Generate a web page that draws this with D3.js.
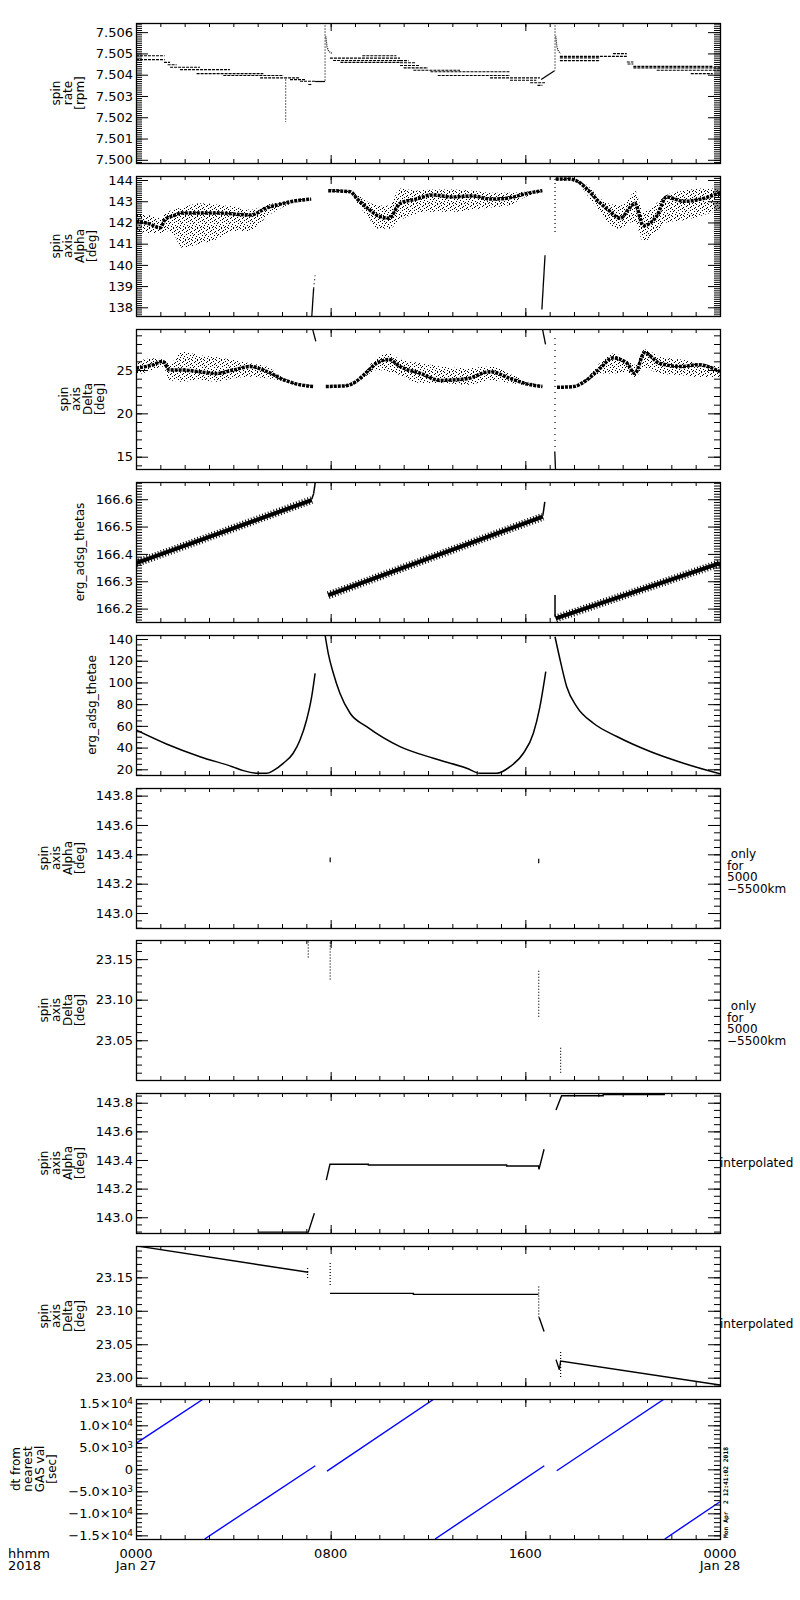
<!DOCTYPE html>
<html>
<head>
<meta charset="utf-8">
<script src="https://cdn.jsdelivr.net/npm/d3@7"></script>
<style>
  body { margin: 0; background: #fff; }
  svg text { font-family: "DejaVu Sans", sans-serif; fill: #000; }
</style>
</head>
<body>
<svg id="chart" width="800" height="1600"></svg>
<script>
// ---- time axis ----
var hourTicks = [0, 8, 16, 24];
var hourLabels = ["0000", "0800", "1600", "0000"];
var dayLabels = ["Jan 27", "", "", "Jan 28"];

// ---- spin rate [rpm]: rows of quantised values [start h, end h, value] ----
var spinRateRows = [
  [0.0, 1.18, 7.50489], [0.0, 1.18, 7.50471],
  [1.15, 1.40, 7.50458], [1.30, 1.67, 7.50447], [1.40, 2.63, 7.50435],
  [1.81, 3.86, 7.50424], [2.49, 5.23, 7.50405], [3.59, 6.06, 7.50396],
  [5.10, 6.74, 7.50385], [6.33, 6.95, 7.50377], [6.74, 7.36, 7.50369],
  [7.08, 7.22, 7.50354],
  [7.97, 10.85, 7.50478], [8.10, 10.85, 7.50467], [8.40, 10.85, 7.50458], [9.30, 10.70, 7.50489],
  [10.85, 11.20, 7.50466], [10.85, 11.50, 7.50456], [10.85, 11.67, 7.50443], [11.0, 12.0, 7.50432],
  [11.40, 13.32, 7.50421], [12.10, 15.37, 7.50414], [12.40, 15.37, 7.50396], [14.55, 16.60, 7.50385],
  [15.37, 16.45, 7.50374], [16.20, 16.81, 7.50362], [16.50, 16.70, 7.50350],
  [17.42, 20.17, 7.50486], [17.42, 19.07, 7.50479], [17.42, 19.07, 7.50466], [19.60, 20.17, 7.50499],
  [20.17, 20.44, 7.50460], [20.20, 20.44, 7.50450],
  [20.44, 23.73, 7.50439], [20.44, 24.0, 7.50432], [21.40, 24.0, 7.50421], [22.80, 23.70, 7.50405]
];
var spinRateSolid = [[7.36, 7.50368, 7.77, 7.50368], [16.65, 7.50377, 17.2, 7.50419]];
var spinRateSpikes = [[6.15, 7.50377, 7.50178], [7.77, 7.5066, 7.50368], [17.22, 7.5066, 7.50419]];
var spinDecayTime = [7.80, 7.85, 7.92, 8.05, null, 17.25, 17.30, 17.36, 17.45];
var spinDecayVal = [7.5058, 7.5053, 7.5051, 7.5050, null, 7.5058, 7.5053, 7.5051, 7.5050];

// ---- spin axis Alpha [deg] ----
var alphaTime = [0.0, 0.5, 1.0, 1.2, 1.5, 1.9, 2.6, 3.3, 4.0, 4.7, 5.4, 5.9, 6.45, 7.2, null,
  7.9, 8.8, 9.1, 9.56, 9.97, 10.4, 10.85, 11.5, 12.2, 13.0, 13.8, 14.6, 15.3, 16.0, 16.7, null,
  17.25, 17.8, 18.2, 18.6, 19.0, 19.4, 19.9, 20.3, 20.5, 20.85, 21.4, 21.8, 22.5, 23.2, 24.0];
var alphaCore = [142.05, 141.95, 141.75, 142.15, 142.3, 142.45, 142.45, 142.45, 142.4, 142.35, 142.7, 142.85, 143.0, 143.1, null,
  143.5, 143.45, 143.1, 142.63, 142.3, 142.2, 142.9, 143.1, 143.3, 143.2, 143.25, 143.1, 143.15, 143.35, 143.5, null,
  144.05, 144.05, 143.9, 143.5, 143.0, 142.6, 142.2, 142.7, 142.9, 141.85, 142.3, 143.2, 143.0, 143.1, 143.4];
var alphaLow = [141.6, 141.5, 141.5, 141.6, 141.5, 140.8, 141.0, 141.2, 141.6, 141.6, 142.3, 142.65, 142.9, 143.05, null,
  143.45, 143.4, 142.9, 142.2, 141.7, 141.7, 142.1, 142.4, 142.5, 142.5, 142.6, 142.7, 142.8, 143.2, 143.45, null,
  143.98, 143.98, 143.8, 143.2, 142.6, 142.0, 141.7, 142.0, 142.0, 141.1, 141.6, 142.0, 142.1, 142.3, 142.6];
var alphaHigh = [142.4, 142.35, 142.2, 142.4, 142.6, 142.7, 142.9, 142.85, 142.75, 142.6, 142.85, 142.95, 143.05, 143.15, null,
  143.55, 143.5, 143.3, 142.95, 142.8, 142.8, 143.6, 143.5, 143.55, 143.55, 143.5, 143.4, 143.4, 143.45, 143.55, null,
  144.1, 144.1, 143.95, 143.7, 143.2, 142.9, 142.8, 143.2, 143.5, 142.5, 142.9, 143.3, 143.5, 143.6, 143.6];
var alphaJumps = [[7.22, 137.5, 7.30, 138.9], [16.68, 137.9, 16.81, 140.45]];
var alphaDotted = [[7.30, 138.9, 7.36, 139.5], [17.22, 144.05, 17.22, 141.5]];

// ---- spin axis Delta [deg] ----
var deltaTime = [0.0, 0.7, 1.1, 1.38, 1.93, 2.6, 3.3, 4.0, 4.7, 5.4, 6.05, 6.74, 7.3, null,
  7.8, 8.6, 9.0, 9.5, 9.9, 10.4, 10.85, 11.7, 12.5, 13.6, 14.55, 15.4, 16.05, 16.7, null,
  17.3, 18.0, 18.5, 19.07, 19.6, 20.17, 20.5, 20.9, 21.5, 22.4, 23.1, 24.0];
var deltaCore = [25.2, 25.6, 26.0, 25.0, 25.0, 24.8, 24.6, 25.0, 25.4, 24.8, 23.9, 23.3, 23.1, null,
  23.1, 23.17, 23.6, 24.8, 25.8, 26.2, 25.4, 24.6, 23.8, 24.0, 24.8, 24.0, 23.4, 23.1, null,
  23.0, 23.1, 23.8, 25.2, 26.4, 25.8, 24.6, 27.0, 25.8, 25.4, 25.6, 24.8];
var deltaLow = [24.42, 25.0, 25.4, 23.85, 23.65, 23.85, 23.65, 24.04, 24.23, 24.04, 23.7, 23.2, 23.05, null,
  23.05, 23.1, 23.4, 24.4, 25.0, 24.8, 24.4, 23.5, 23.5, 23.3, 23.8, 23.5, 23.2, 23.05, null,
  22.95, 23.0, 23.6, 24.6, 24.6, 24.8, 24.2, 25.2, 24.6, 24.4, 24.2, 24.2];
var deltaHigh = [25.96, 26.35, 26.2, 25.77, 27.1, 26.7, 26.5, 26.15, 25.77, 25.38, 24.1, 23.4, 23.15, null,
  23.15, 23.25, 23.8, 25.2, 26.4, 26.9, 26.2, 25.8, 25.4, 25.2, 25.4, 24.5, 23.7, 23.2, null,
  23.1, 23.2, 24.0, 25.8, 26.9, 26.2, 25.6, 27.4, 26.6, 26.2, 25.8, 25.4];
var deltaJumps = [[7.25, 29.8, 7.39, 28.3], [16.70, 29.8, 16.83, 27.95], [17.21, 15.6, 17.24, 13.5]];
var deltaDotted = [[17.22, 28.7, 17.22, 15.6]];

// ---- erg_adsg_thetas ----
var thetasTime = [0.0, 7.22, null, 7.9, 16.72, null, 17.25, 24.0];
var thetasVal = [166.366, 166.597, null, 166.249, 166.536, null, 166.164, 166.366];
var thetasJumps = [[7.22, 166.60, 7.30, 166.62], [7.30, 166.62, 7.38, 166.67],
  [16.72, 166.54, 16.80, 166.59], [17.22, 166.17, 17.22, 166.25]];

// ---- erg_adsg_thetae ----
var thetaeTime = [0, 1.25, 2.63, 3.96, 4.41, 5.03, 5.37, 5.64, 6.05, 6.46, 6.74, 7.01, 7.22, 7.36, null,
  7.77, 7.9, 8.11, 8.38, 8.8, 9.48, 10.85, 12.22, 13.59, 14.14, 14.82, 15.37, 15.92, 16.33, 16.6, 16.84, null,
  17.22, 17.43, 17.7, 18.11, 18.8, 19.76, 21.13, 22.5, 24];
var thetaeVal = [56.2, 43.3, 31.6, 22.4, 18.8, 16.3, 16.3, 18.8, 25.5, 34.8, 47.0, 65.4, 86.9, 108.4, null,
  143.7, 126.8, 108.4, 90.0, 71.6, 59.3, 40.9, 30.2, 21.0, 16.3, 16.3, 22.4, 34.8, 53.2, 77.8, 110, null,
  142.1, 120.7, 96.1, 77.8, 62.4, 50.2, 36.4, 25.6, 15.8];

// ---- only for 5000-5500km: [hour, low, high] ----
var alphaOnlyMarks = [[7.98, 143.346, 143.378], [16.55, 143.34, 143.37]];
var deltaOnlyMarks = [[7.08, 23.152, 23.172], [7.98, 23.125, 23.173], [16.55, 23.079, 23.138], [17.45, 23.010, 23.041]];

// ---- interpolated ----
var alphaIntTime = [5.03, 7.08, 7.33, null, 7.82, 7.97, 9.55, 9.55, 15.23, 15.23, 16.54, 16.56, 16.77, null,
  17.26, 17.49, 19.2, 19.2, 21.74];
var alphaIntVal = [142.896, 142.896, 143.028, null, 143.26, 143.37, 143.37, 143.365, 143.365, 143.358, 143.358, 143.335, 143.475, null,
  143.749, 143.849, 143.849, 143.857, 143.857];
var deltaIntTime = [0, 7.08, null, 7.97, 11.4, 11.4, 16.54, null, 16.57, 16.77, null, 17.26, 17.40, 17.45, 24];
var deltaIntVal = [23.197, 23.1575, null, 23.126, 23.126, 23.1245, 23.1245, null, 23.09, 23.069, null, 23.027, 23.012, 23.025, 22.989];
var deltaIntDots = [[7.05, 23.149, 23.167], [7.98, 23.1385, 23.173], [16.55, 23.09, 23.138], [17.45, 23.001, 23.041]];

// ---- dt from nearest GAS val [sec]: [t0, v0, t1, v1] ----
var dtSegs = [[0, 5900, 2.77, 15980], [2.82, -15830, 7.37, 820], [7.85, -390, 12.25, 15980],
  [12.29, -15830, 16.78, 820], [17.29, -330, 21.71, 15980], [21.73, -15830, 24, -7360]];

// ------------------------------------------------------------------
var svg = d3.select("#chart");
var x = d3.scaleLinear().domain([0, 24]).range([136, 720]);
var panelH = 140;
var defs = svg.append("defs");

// speckle used for scattered clouds
var pat = defs.append("pattern").attr("id", "speckle")
  .attr("width", 12).attr("height", 12).attr("patternUnits", "userSpaceOnUse");
[[0, 0], [5, 0], [9, 1], [2, 2], [7, 2], [11, 3], [4, 4], [0, 5], [8, 5], [2, 6], [6, 6], [10, 7],
  [4, 8], [0, 9], [7, 9], [3, 10], [9, 10], [5, 11], [11, 11], [1, 7], [6, 3], [10, 4], [8, 11], [3, 1]
].forEach(function (p) {
  pat.append("rect").attr("x", p[0]).attr("y", p[1]).attr("width", 1).attr("height", 1).attr("fill", "#000");
});

function pairs(T, V) {
  return T.map(function (t, i) { return [t, V[i]]; });
}
function lineGen(y) {
  return d3.line()
    .defined(function (d) { return d[0] != null && d[1] != null; })
    .x(function (d) { return x(d[0]); })
    .y(function (d) { return y(d[1]); });
}
function drawPath(g, y, data, width, dash, curve, color) {
  var gen = lineGen(y);
  if (curve) gen.curve(curve);
  g.append("path").datum(data)
    .attr("d", gen)
    .attr("fill", "none")
    .attr("stroke", color || "#000")
    .attr("stroke-width", width)
    .attr("stroke-dasharray", dash || null);
}
function drawSegs(g, y, segs, width, dash, color) {
  g.selectAll(null).data(segs).enter().append("line")
    .attr("x1", function (d) { return x(d[0]); })
    .attr("y1", function (d) { return y(d[1]); })
    .attr("x2", function (d) { return x(d[2]); })
    .attr("y2", function (d) { return y(d[3]); })
    .attr("stroke", color || "#000")
    .attr("stroke-width", width)
    .attr("stroke-dasharray", dash || null);
}
function drawRows(g, y, rows) {
  g.selectAll(null).data(rows).enter().append("line")
    .attr("x1", function (d) { return x(d[0]); })
    .attr("x2", function (d) { return x(d[1]); })
    .attr("y1", function (d) { return y(d[2]); })
    .attr("y2", function (d) { return y(d[2]); })
    .attr("stroke", "#000")
    .attr("stroke-width", 1.1)
    .attr("stroke-dasharray", "3,1");
}
function drawMarks(g, y, marks, dash) {
  g.selectAll(null).data(marks).enter().append("line")
    .attr("x1", function (d) { return x(d[0]); })
    .attr("x2", function (d) { return x(d[0]); })
    .attr("y1", function (d) { return y(d[1]); })
    .attr("y2", function (d) { return y(d[2]); })
    .attr("stroke", "#000")
    .attr("stroke-width", 1.2)
    .attr("stroke-dasharray", dash || null);
}
function drawCloud(g, y, T, lo, hi, core) {
  var data = T.map(function (t, i) { return [t, lo[i], hi[i]]; });
  var area = d3.area()
    .defined(function (d) { return d[0] != null; })
    .curve(d3.curveMonotoneX)
    .x(function (d) { return x(d[0]); })
    .y0(function (d) { return y(d[1]); })
    .y1(function (d) { return y(d[2]); });
  g.append("path").datum(data).attr("d", area).attr("fill", "url(#speckle)");
  drawPath(g, y, pairs(T, core), 3.5, "3,1", d3.curveMonotoneX);
}

function sciLabel(v) {
  if (v === 0) return ["0", ""];
  var e = Math.floor(Math.log10(Math.abs(v)) + 1e-9);
  var m = (v / Math.pow(10, e)).toFixed(1).replace("-", "\u2212");
  return [m + "\u00d710", String(e)];
}

var panels = [
  { domain: [7.49985, 7.50643], major: 0.001, minor: 0.0001, fmt: ".3f", title: ["spin", "rate", "[rpm]"],
    draw: function (g, y) {
      drawRows(g, y, spinRateRows);
      drawSegs(g, y, spinRateSolid, 1.2);
      drawMarks(g, y, spinRateSpikes, "1,2");
      drawPath(g, y, pairs(spinDecayTime, spinDecayVal), 1.2, "1,1");
    } },
  { domain: [137.59, 144.19], major: 1, minor: 0.1, fmt: "d", title: ["spin", "axis", "Alpha", "[deg]"],
    draw: function (g, y) {
      drawCloud(g, y, alphaTime, alphaLow, alphaHigh, alphaCore);
      drawSegs(g, y, alphaJumps, 1.3);
      drawSegs(g, y, alphaDotted, 1.2, "1,3");
    } },
  { domain: [13.58, 29.73], major: 5, minor: 1, fmt: "d", title: ["spin", "axis", "Delta", "[deg]"],
    draw: function (g, y) {
      drawCloud(g, y, deltaTime, deltaLow, deltaHigh, deltaCore);
      drawSegs(g, y, deltaJumps, 1.3);
      drawSegs(g, y, deltaDotted, 1.2, "1,5");
    } },
  { domain: [166.151, 166.663], major: 0.1, minor: 0.01, fmt: ".1f", title: ["erg_adsg_thetas"],
    draw: function (g, y) {
      drawPath(g, y, pairs(thetasTime, thetasVal), 4);
      drawPath(g, y, pairs(thetasTime, thetasVal), 8, "1,2");
      drawSegs(g, y, thetasJumps, 1.5);
    } },
  { domain: [14.75, 143.7], major: 20, minor: 5, fmt: "d", title: ["erg_adsg_thetae"],
    draw: function (g, y) {
      drawPath(g, y, pairs(thetaeTime, thetaeVal), 1.5, null, d3.curveMonotoneX);
    } },
  { domain: [142.898, 143.852], major: 0.2, minor: 0.05, fmt: ".1f", title: ["spin", "axis", "Alpha", "[deg]"],
    note: ["\u00a0only", "for", "5000", "\u22125500km"], noteX: 727, noteDy: 0,
    draw: function (g, y) { drawMarks(g, y, alphaOnlyMarks); } },
  { domain: [23.001, 23.1736], major: 0.05, minor: 0.01, fmt: ".2f", title: ["spin", "axis", "Delta", "[deg]"],
    note: ["\u00a0only", "for", "5000", "\u22125500km"], noteX: 727, noteDy: 0,
    draw: function (g, y) { drawMarks(g, y, deltaOnlyMarks, "1,2"); } },
  { domain: [142.89, 143.868], major: 0.2, minor: 0.05, fmt: ".1f", title: ["spin", "axis", "Alpha", "[deg]"],
    note: ["interpolated"], noteX: 720, noteDy: 4,
    draw: function (g, y) { drawPath(g, y, pairs(alphaIntTime, alphaIntVal), 1.4); } },
  { domain: [22.9876, 23.1968], major: 0.05, minor: 0.01, fmt: ".2f", title: ["spin", "axis", "Delta", "[deg]"],
    note: ["interpolated"], noteX: 720, noteDy: 12,
    draw: function (g, y) {
      drawPath(g, y, pairs(deltaIntTime, deltaIntVal), 1.4);
      drawMarks(g, y, deltaIntDots, "1,2");
    } },
  { domain: [-15830, 15980], major: 5000, minor: 1000, fmt: "sci", title: ["dt from", "nearest", "GAS val", "[sec]"],
    draw: function (g, y) { drawSegs(g, y, dtSegs, 1.4, null, "#0000ff"); } }
];

function tickRange(domain, step) {
  var k0 = Math.ceil(domain[0] / step - 1e-6), k1 = Math.floor(domain[1] / step + 1e-6);
  return d3.range(k0, k1 + 1).map(function (k) { return +(k * step).toFixed(6); });
}

panels.forEach(function (p, i) {
  var top = Math.round(23 + i * 152.9);
  var bottom = top + panelH;
  var y = d3.scaleLinear().domain(p.domain).range([bottom, top]);
  var g = svg.append("g").attr("class", "panel");

  defs.append("clipPath").attr("id", "clip" + i)
    .append("rect").attr("x", 136).attr("y", top).attr("width", 584).attr("height", panelH);
  var plot = g.append("g").attr("clip-path", "url(#clip" + i + ")");
  p.draw(plot, y);

  var major = tickRange(p.domain, p.major);
  var minor = tickRange(p.domain, p.minor);
  var fmt = p.fmt === "sci" ? function () { return ""; } : d3.format(p.fmt);

  var left = g.append("g").attr("transform", "translate(136,0)")
    .call(d3.axisLeft(y).tickValues(major).tickSize(-12).tickPadding(3).tickFormat(fmt));
  left.attr("font-size", 13).attr("font-family", "DejaVu Sans");
  left.select(".domain").remove();
  if (p.fmt === "sci") {
    left.selectAll(".tick text").each(function (d) {
      var parts = sciLabel(d);
      var t = d3.select(this);
      t.append("tspan").text(parts[0]);
      if (parts[1]) t.append("tspan").attr("dy", "-0.45em").attr("font-size", 9).text(parts[1]);
    });
  }
  g.append("g").attr("transform", "translate(136,0)")
    .call(d3.axisLeft(y).tickValues(minor).tickSize(-6).tickFormat(""))
    .select(".domain").remove();
  g.append("g").attr("transform", "translate(720,0)")
    .call(d3.axisRight(y).tickValues(major).tickSize(-12).tickFormat(""))
    .select(".domain").remove();
  g.append("g").attr("transform", "translate(720,0)")
    .call(d3.axisRight(y).tickValues(minor).tickSize(-6).tickFormat(""))
    .select(".domain").remove();

  [[d3.axisTop, top], [d3.axisBottom, bottom]].forEach(function (a) {
    g.append("g").attr("transform", "translate(0," + a[1] + ")")
      .call(a[0](x).tickValues(d3.range(0, 25)).tickSize(-4).tickFormat(""))
      .select(".domain").remove();
    g.append("g").attr("transform", "translate(0," + a[1] + ")")
      .call(a[0](x).tickValues(hourTicks).tickSize(-8).tickFormat(""))
      .select(".domain").remove();
  });

  g.append("rect")
    .attr("x", 136.5).attr("y", top + 0.5)
    .attr("width", 584).attr("height", panelH)
    .attr("fill", "none").attr("stroke", "#000").attr("stroke-width", 1.3);

  // y title, to the left of the widest tick label
  var maxW = d3.max(left.selectAll(".tick text").nodes(), function (n) { return n.getBBox().width; });
  var rightEdge = 136 - 3 - maxW - 9;
  var cy = (top + bottom) / 2;
  var n = p.title.length;
  p.title.forEach(function (line, k) {
    var bx = rightEdge - 3 - (n - 1 - k) * 12;
    g.append("text")
      .attr("transform", "translate(" + bx + "," + cy + ") rotate(-90)")
      .attr("text-anchor", "middle")
      .attr("font-size", 12)
      .text(line);
  });

  if (p.note) {
    p.note.forEach(function (line, k) {
      g.append("text")
        .attr("x", p.noteX)
        .attr("y", cy + p.noteDy + k * 11.7)
        .attr("font-size", 12)
        .text(line);
    });
  }

  if (i === panels.length - 1) {
    hourTicks.forEach(function (h, k) {
      g.append("text").attr("x", x(h)).attr("y", bottom + 19)
        .attr("text-anchor", "middle").attr("font-size", 13).text(hourLabels[k]);
      if (dayLabels[k]) {
        g.append("text").attr("x", x(h)).attr("y", bottom + 31)
          .attr("text-anchor", "middle").attr("font-size", 13).text(dayLabels[k]);
      }
    });
    g.append("text").attr("x", 8).attr("y", bottom + 19).attr("font-size", 13).text("hhmm");
    g.append("text").attr("x", 8).attr("y", bottom + 31).attr("font-size", 13).text("2018");
    g.append("text")
      .attr("transform", "translate(728," + (bottom - 1) + ") rotate(-90)")
      .style("font-family", "'DejaVu Sans Mono', monospace")
      .attr("font-size", 6.3)
      .attr("font-weight", "bold")
      .style("white-space", "pre")
      .text("Mon Apr  2 12:41:02 2018");
  }
});
</script>
</body>
</html>
